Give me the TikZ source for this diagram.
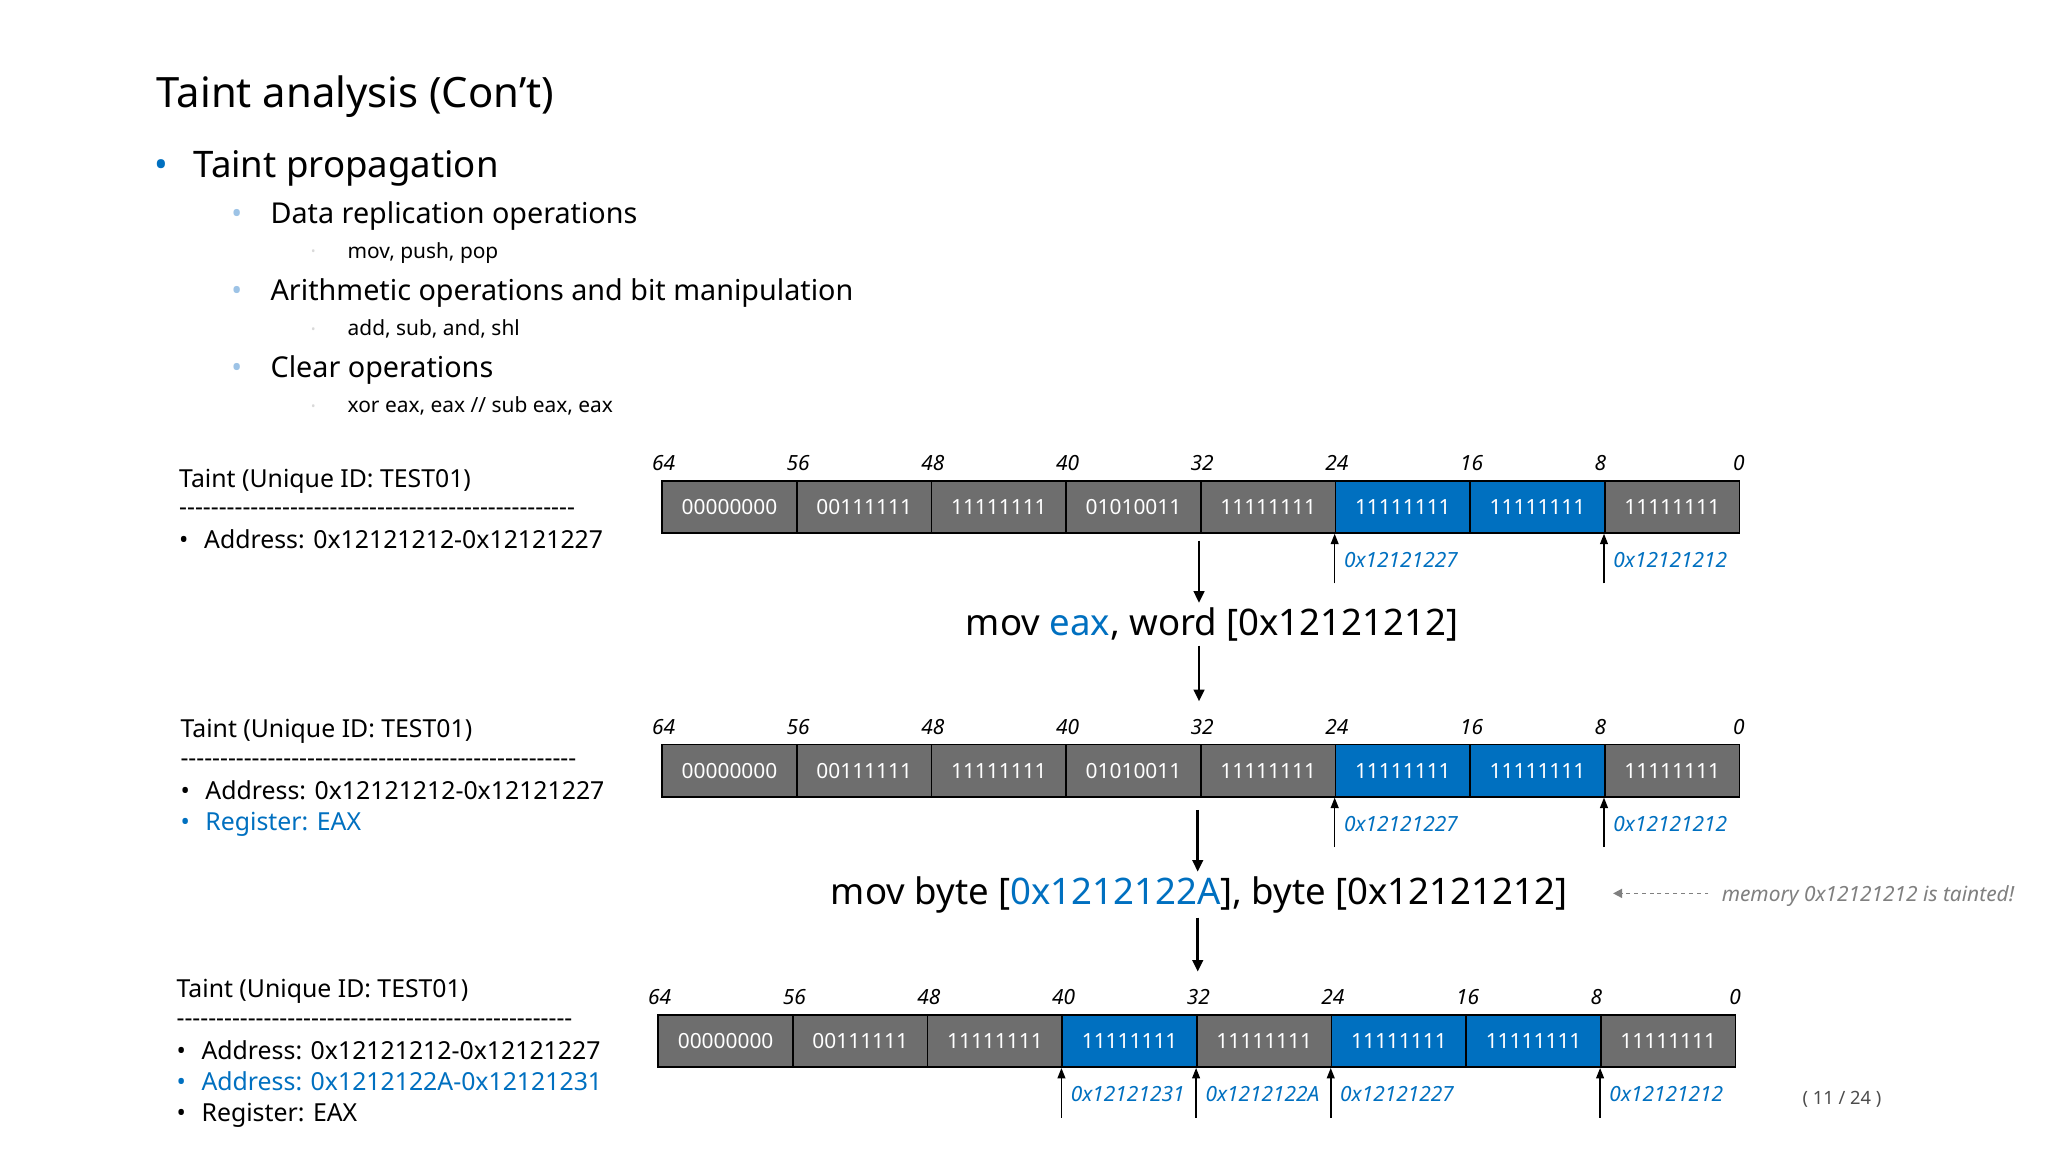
\documentclass[tikz,border=0pt]{standalone}
\usepackage{fontspec}
\setmainfont{Noto Sans}
\usetikzlibrary{arrows.meta,calc}
\definecolor{tblue}{HTML}{0070C0}
\definecolor{tgray}{HTML}{6E6E6E}
\definecolor{lblue}{HTML}{9DC3E6}
\newcommand{\fs}[1]{\fontsize{#1}{#1}\selectfont}
\begin{document}
\begin{tikzpicture}[x=1pt,y=-1pt,
  txt/.style={anchor=base west,inner sep=0pt},
  cell/.style={draw=black,line width=1.3pt,minimum width=103.1pt,minimum height=40pt,inner sep=0pt,text=white,font=\fs{16}},
  bit/.style={anchor=base west,inner sep=0pt,font=\fs{16}\itshape},
  addr/.style={anchor=base west,inner sep=0pt,font=\fs{16}\itshape,text=tblue},
  ptr/.style={-{Triangle[length=8pt,width=6pt]},line width=1.2pt},
  down/.style={-{Triangle[length=9pt,width=8pt]},line width=2.2pt}]
\useasboundingbox (0,0) rectangle (1568,882);
\fill[white] (0,0) rectangle (1568,882);
% header
\node[txt,font=\fs{32}\bfseries] (title) at (120,82) {Taint analysis (Con’t)};
\node[txt,font=\fs{28},text=tblue] (b1) at (118,136) {•};
\node[txt,font=\fs{28}] (l1) at (148,136) {Taint propagation};
\foreach \y/\t in {171/Data replication operations,230/Arithmetic operations and bit manipulation,289/Clear operations}{
  \node[txt,font=\fs{22},text=lblue] at (177,\y) {•};
  \node[txt,font=\fs{22}] at (207,\y) {\t};}
\foreach \y/\t in {198/{mov, push, pop},257/{add, sub, and, shl},316/{xor eax, eax // sub eax, eax}}{
  \node[txt,font=\fs{9},text=black!15] at (238,\y-2) {•};
  \node[txt,font=\fs{16}] at (266,\y) {\t};}
% left blocks
\newcommand{\dashes}{-{}-{}-{}-{}-{}-{}-{}-{}-{}-{}-{}-{}-{}-{}-{}-{}-{}-{}-{}-{}-{}-{}-{}-{}-{}-{}-{}-{}-{}-{}-{}-{}-{}-{}-{}-{}-{}-{}-{}-{}-{}-{}-{}-{}-{}-{}-{}-{}-{}-{}}
\begin{scope}[every node/.style={txt,font=\fs{19}}]
\node (t1) at (137,373) {Taint (Unique ID: TEST01)};
\node (d1) at (137,395) {\resizebox{303pt}{!}{\dashes}};
\node (a1) at (137,420) {•\hspace{12pt}Address: 0x12121212-0x12121227};
\node (t2) at (138,565) {Taint (Unique ID: TEST01)};
\node (d2) at (138,587) {\resizebox{303pt}{!}{\dashes}};
\node (a2) at (138,612) {•\hspace{12pt}Address: 0x12121212-0x12121227};
\node[text=tblue] (r2) at (138,636) {•\hspace{12pt}Register: EAX};
\node (t3) at (135,764) {Taint (Unique ID: TEST01)};
\node (d3) at (135,786) {\resizebox{303pt}{!}{\dashes}};
\node (a3) at (135,811) {•\hspace{12pt}Address: 0x12121212-0x12121227};
\node[text=tblue] (a3b) at (135,835) {•\hspace{12pt}Address: 0x1212122A-0x12121231};
\node (r3) at (135,859) {•\hspace{12pt}Register: EAX};
\end{scope}
% rows
\foreach \r/\x/\y/\cols in {1/507/388/{tgray,tgray,tgray,tgray,tgray,tblue,tblue,tgray},
                            2/507/590/{tgray,tgray,tgray,tgray,tgray,tblue,tblue,tgray},
                            3/504/797/{tgray,tgray,tgray,tblue,tgray,tblue,tblue,tgray}}{
  \foreach \c [count=\i from 0] in \cols {
    \pgfmathsetmacro{\cx}{\x+103.1*\i+51.55}
    \pgfmathsetmacro{\bitv}{int(64-8*\i)}
    \node[cell,fill=\c] (c\r-\i) at (\cx,\y) {};
    \node[bit] (bl\r-\i) at (\x+103.1*\i-8,\y-28) {\bitv};
  }
  \node[bit] (bl\r-8) at (\x+824.8-5,\y-28) {0};
}
\foreach \r in {1,2,3}{
  \path (c\r-0) node[text=white,font=\fs{16}] {00000000}
        (c\r-1) node[text=white,font=\fs{16}] {00111111}
        (c\r-2) node[text=white,font=\fs{16}] {11111111}
        (c\r-4) node[text=white,font=\fs{16}] {11111111}
        (c\r-5) node[text=white,font=\fs{16}] {11111111}
        (c\r-6) node[text=white,font=\fs{16}] {11111111}
        (c\r-7) node[text=white,font=\fs{16}] {11111111};}
\path (c1-3) node[text=white,font=\fs{16}] {01010011}
      (c2-3) node[text=white,font=\fs{16}] {01010011}
      (c3-3) node[text=white,font=\fs{16}] {11111111};
% pointers
\foreach \r/\i/\lab in {1/5/0x12121227,1/7/0x12121212,2/5/0x12121227,2/7/0x12121212,
                        3/3/0x12121231,3/4/0x1212122A,3/5/0x12121227,3/7/0x12121212}{
  \coordinate (p\r-\i) at ($(c\r-\i.south west)+(0,38)$);
  \draw[ptr] (p\r-\i) -- (c\r-\i.south west);
  \node[addr] (al\r-\i) at ($(c\r-\i.south west)+(7,26)$) {\lab};
}
% instructions
\node[font=\fs{28}] (i1) at (928,478) {mov \textcolor{tblue}{eax}, word [0x12121212]};
\node[font=\fs{28}] (i2) at (918,685) {mov byte [\textcolor{tblue}{0x1212122A}], byte [0x12121212]};
\draw[down] (918,414) -- (i1.north -| 918,0);
\draw[down] (i1.south -| 918,0) -- (918,537);
\draw[down] (917,620) -- (i2.north -| 917,0);
\draw[down] (i2.south -| 917,0) -- (917,744);
% note
\node[txt,font=\fs{16}\itshape,text=black!50] (note) at (1318,690) {memory 0x12121212 is tainted!};
\draw[black!50,dashed,line width=1.2pt,-{Triangle[length=7pt,width=7pt]}] (note.west |- 0,684) ++(-10,0) -- (1235,684);
\node[txt,font=\fs{14},text=black!70] (pg) at (1380,846) {( 11 / 24 )};
\end{tikzpicture}
\end{document}
